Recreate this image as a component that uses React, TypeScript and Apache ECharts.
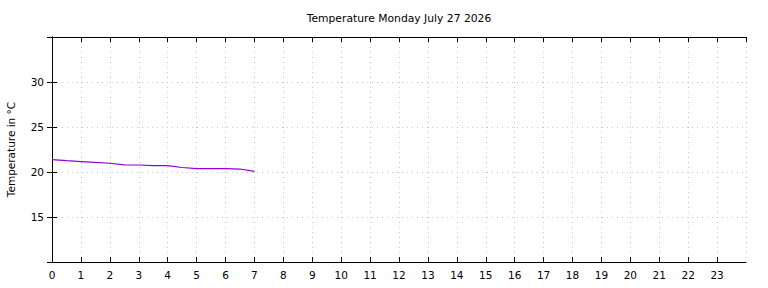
import React, { useEffect, useRef } from "react";
import * as echarts from "echarts";

// Half-hourly readings for the day so far
const hours: number[] = [0, 0.5, 1, 1.5, 2, 2.5, 3, 3.5, 4, 4.5, 5, 5.5, 6, 6.5, 7];
const temperatures: number[] = [21.37, 21.26, 21.16, 21.06, 20.97, 20.8, 20.78, 20.7, 20.7, 20.5, 20.38, 20.37, 20.37, 20.33, 20.07];

const titleText = "Temperature Monday July 27 2026";
const yAxisTitle = "Temperature in °C";

const FONT = "DejaVu Sans";
const TEXT_COLOR = "#000";
const GRID_COLOR = "#c4c4c4";
const LINE_COLOR = "#9400d3";

export default function App() {
  const ref = useRef<HTMLDivElement>(null);

  useEffect(() => {
    if (!ref.current) return;
    const chart = echarts.init(ref.current, undefined, { renderer: "svg" });
    const points = hours.map((h, i) => [h, temperatures[i]]);

    const border = { show: true, lineStyle: { color: "#000", width: 1 } };
    const innerTick = { show: true, inside: true, length: 5, lineStyle: { color: "#000", width: 1 } };

    chart.setOption({
      animation: false,
      backgroundColor: "#fff",
      textStyle: { fontFamily: FONT },
      title: {
        text: titleText,
        left: 394,
        top: 8,
        textAlign: "center",
        textStyle: { fontFamily: FONT, fontSize: 10.75, fontWeight: "normal", color: TEXT_COLOR },
      },
      grid: {
        left: 52,
        right: 22,
        top: 37,
        bottom: 26,
        containLabel: false,
        outerBoundsMode: "none",
      },
      xAxis: [
        {
          type: "value",
          position: "bottom",
          min: 0,
          max: 24,
          interval: 1,
          axisLine: border,
          axisTick: innerTick,
          axisLabel: {
            show: true,
            showMaxLabel: false,
            margin: 7,
            fontFamily: FONT,
            fontSize: 10.5,
            color: TEXT_COLOR,
          },
          splitLine: { show: true, lineStyle: { color: GRID_COLOR, type: [1, 4], width: 1 } },
        },
        {
          type: "value",
          position: "top",
          min: 0,
          max: 24,
          interval: 1,
          axisLine: border,
          axisTick: innerTick,
          axisLabel: { show: false },
          splitLine: { show: false },
        },
      ],
      yAxis: [
        {
          type: "value",
          position: "left",
          min: 10,
          max: 35,
          interval: 5,
          name: yAxisTitle,
          nameLocation: "middle",
          nameGap: 36,
          nameTextStyle: { fontFamily: FONT, fontSize: 10.5, color: TEXT_COLOR },
          axisLine: border,
          axisTick: innerTick,
          axisLabel: {
            show: true,
            showMinLabel: false,
            showMaxLabel: false,
            margin: 8,
            fontFamily: FONT,
            fontSize: 10.5,
            color: TEXT_COLOR,
          },
          splitLine: { show: true, lineStyle: { color: GRID_COLOR, type: [1, 4], width: 1 } },
        },
        {
          type: "value",
          position: "right",
          min: 10,
          max: 35,
          interval: 5,
          axisLine: border,
          axisTick: innerTick,
          axisLabel: { show: false },
          splitLine: { show: false },
        },
      ],
      series: [
        {
          type: "line",
          xAxisIndex: 0,
          yAxisIndex: 0,
          data: points,
          showSymbol: false,
          symbol: "none",
          smooth: false,
          lineStyle: { color: LINE_COLOR, width: 1.2 },
          itemStyle: { color: LINE_COLOR },
          z: 5,
        },
      ],
    });

    return () => chart.dispose();
  }, []);

  return (
    <div
      ref={ref}
      style={{ position: "fixed", left: 0, top: 0, width: 768, height: 288, background: "#fff" }}
    />
  );
}
